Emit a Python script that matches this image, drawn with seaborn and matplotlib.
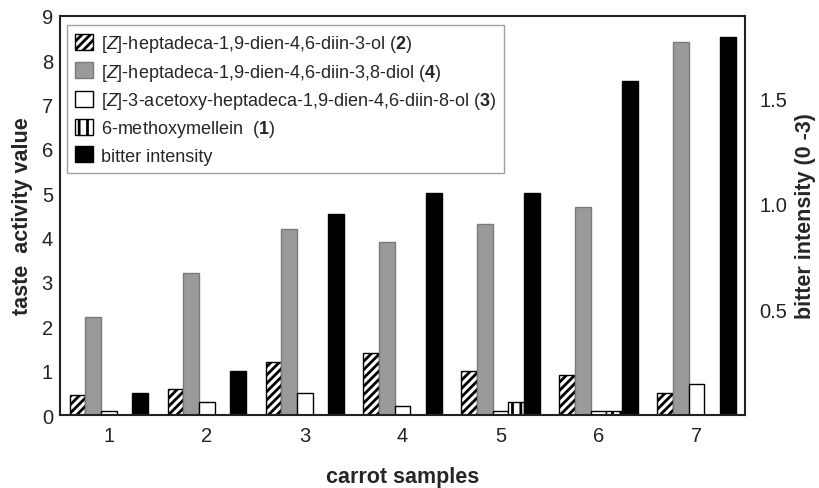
import matplotlib
matplotlib.use("Agg")
import matplotlib.pyplot as plt
from matplotlib.patches import Patch
import seaborn as sns
import pandas as pd

samples = ["1", "2", "3", "4", "5", "6", "7"]
diinol_2 = [0.45, 0.6, 1.2, 1.4, 1.0, 0.9, 0.5]
diol_4 = [2.2, 3.2, 4.2, 3.9, 4.3, 4.7, 8.4]
acetoxy_3 = [0.1, 0.3, 0.5, 0.2, 0.1, 0.1, 0.7]
methoxymellein_1 = [0.0, 0.0, 0.0, 0.0, 0.3, 0.1, 0.0]
bitter = [0.105, 0.21, 0.95, 1.05, 1.05, 1.58, 1.79]  # bitter intensity (right axis)

labels = [
    r"[$\mathit{Z}$]-heptadeca-1,9-dien-4,6-diin-3-ol ($\mathbf{2}$)",
    r"[$\mathit{Z}$]-heptadeca-1,9-dien-4,6-diin-3,8-diol ($\mathbf{4}$)",
    r"[$\mathit{Z}$]-3-acetoxy-heptadeca-1,9-dien-4,6-diin-8-ol ($\mathbf{3}$)",
    r"6-methoxymellein  ($\mathbf{1}$)",
    "bitter intensity",
]

left_max = 9.0
right_max = 1.89
scale = left_max / right_max

sns.set_theme(style="white")
plt.rcParams["font.family"] = ["Liberation Sans", "DejaVu Sans"]
plt.rcParams["mathtext.fontset"] = "custom"
plt.rcParams["mathtext.rm"] = "Liberation Sans"
plt.rcParams["mathtext.it"] = "Liberation Sans:italic"
plt.rcParams["mathtext.bf"] = "Liberation Sans:bold"
plt.rcParams["hatch.linewidth"] = 2.0

series = [diinol_2, diol_4, acetoxy_3, methoxymellein_1, [b * scale for b in bitter]]
keys = ["s2", "s4", "s3", "s1", "bitter"]
rows = []
for k, vals in zip(keys, series):
    for s, v in zip(samples, vals):
        rows.append({"sample": s, "series": k, "value": v})
df = pd.DataFrame(rows)

faces = ["white", "#9a9a9a", "white", "white", "black"]
edges = ["black", "#7a7a7a", "black", "black", "black"]
hatches = ["////", None, None, "||", None]

fig = plt.figure(figsize=(8.2, 4.89), dpi=100)
ax = fig.add_axes([0.073, 0.149, 0.836, 0.817])
sns.barplot(data=df, x="sample", y="value", hue="series", hue_order=keys,
            order=samples, ax=ax, width=0.8, legend=False, saturation=1)

n = len(samples)
for i, p in enumerate(ax.patches):
    h = i // n
    if h >= len(keys):
        break
    p.set_facecolor(faces[h])
    p.set_edgecolor(edges[h])
    p.set_linewidth(1.0)
    if hatches[h]:
        p.set_hatch(hatches[h])

ax.set_xlim(-0.5, 6.5)
ax.set_ylim(0, left_max)
ax.set_yticks(range(0, 10))
ax.tick_params(axis="both", length=0, labelsize=14.5, colors="#222222")
ax.tick_params(axis="x", pad=8)
ax.tick_params(axis="y", pad=5)
ax.set_xlabel("carrot samples", fontsize=15.5, fontweight="bold", labelpad=15)
ax.set_ylabel("taste  activity value", fontsize=15.5, fontweight="bold", labelpad=6)
for sp in ax.spines.values():
    sp.set_color("#222222")
    sp.set_linewidth(1.5)

ax2 = ax.twinx()
ax2.set_ylim(0, right_max)
ax2.set_yticks([0.5, 1.0, 1.5])
ax2.set_yticklabels(["0.5", "1.0", "1.5"])
ax2.tick_params(axis="y", length=0, labelsize=14.5, colors="#222222", pad=10)
ax2.set_ylabel("bitter intensity (0 -3)", fontsize=15.5, fontweight="bold", labelpad=6)
for sp in ax2.spines.values():
    sp.set_visible(False)

handles = [Patch(facecolor=faces[i], edgecolor=edges[i], hatch=hatches[i]) for i in range(5)]
leg = ax.legend(handles, labels, loc="upper left", bbox_to_anchor=(0.005, 0.985),
                fontsize=13, frameon=True, fancybox=False, handlelength=1.0,
                handleheight=1.0, handletextpad=0.45, labelspacing=0.4,
                borderpad=0.45, borderaxespad=0.2)
leg.get_frame().set_edgecolor("#888888")
leg.get_frame().set_linewidth(1.0)

fig.savefig("out.png", dpi=100)
